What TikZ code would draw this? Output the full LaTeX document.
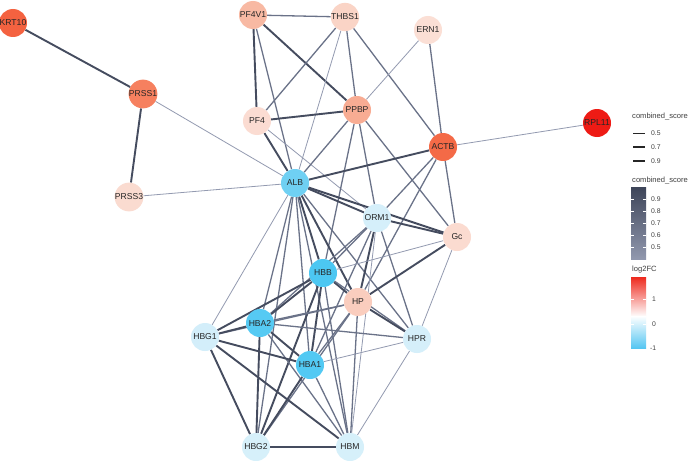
\documentclass[tikz,border=0pt]{standalone}
\usepackage{fontspec}
\setsansfont{Liberation Sans}
\usetikzlibrary{backgrounds}
\definecolor{edgelo}{HTML}{939AB0}
\definecolor{edgemid}{HTML}{6A7288}
\definecolor{edgehi}{HTML}{454C5F}
\definecolor{barhi}{HTML}{3E4559}
\definecolor{barlo}{HTML}{9198AE}
\definecolor{fcred}{HTML}{EE2A1E}
\definecolor{fcblue}{HTML}{55C6F2}
\begin{document}
\begin{tikzpicture}[x=1pt,y=-1pt,
  gene/.style={circle,minimum size=28pt,inner sep=0pt,font=\sffamily\fontsize{8.6}{9}\selectfont,text=black!85},
  lo/.style={draw=edgelo,line width=0.8pt},
  mid/.style={draw=edgemid,line width=1.3pt},
  hi/.style={draw=edgehi,line width=1.9pt},
  leg/.style={anchor=west,inner sep=0pt,font=\sffamily\fontsize{7.6}{8}\selectfont,text=black!75},
  tick/.style={anchor=west,inner sep=0pt,font=\sffamily\fontsize{6.8}{7}\selectfont,text=black!75}]
\useasboundingbox (0,0) rectangle (698,460);

\node[gene,fill={rgb,255:red,244;green,98;blue,64}] (KRT10) at (13,23) {KRT10};
\node[gene,fill={rgb,255:red,246;green,128;blue,95}] (PRSS1) at (143,94) {PRSS1};
\node[gene,fill={rgb,255:red,250;green,219;blue,208}] (PRSS3) at (129,197) {PRSS3};
\node[gene,fill={rgb,255:red,248;green,185;blue,163}] (PF4V1) at (253,15) {PF4V1};
\node[gene,fill={rgb,255:red,250;green,212;blue,198}] (THBS1) at (345,17) {THBS1};
\node[gene,fill={rgb,255:red,251;green,223;blue,213}] (ERN1) at (428,30) {ERN1};
\node[gene,fill={rgb,255:red,251;green,220;blue,210}] (PF4) at (257,121) {PF4};
\node[gene,fill={rgb,255:red,248;green,172;blue,147}] (PPBP) at (357,110) {PPBP};
\node[gene,fill={rgb,255:red,244;green,106;blue,71}] (ACTB) at (443,147) {ACTB};
\node[gene,fill={rgb,255:red,238;green,27;blue,21}] (RPL11) at (597,123) {RPL11};
\node[gene,fill={rgb,255:red,111;green,208;blue,243}] (ALB) at (295,183) {ALB};
\node[gene,fill={rgb,255:red,213;green,239;blue,250}] (ORM1) at (377,218) {ORM1};
\node[gene,fill={rgb,255:red,251;green,219;blue,208}] (Gc) at (457,237) {Gc};
\node[gene,fill={rgb,255:red,76;green,199;blue,242}] (HBB) at (323,273) {HBB};
\node[gene,fill={rgb,255:red,250;green,205;blue,190}] (HP) at (358,302) {HP};
\node[gene,fill={rgb,255:red,86;green,202;blue,243}] (HBA2) at (260,323) {HBA2};
\node[gene,fill={rgb,255:red,211;green,238;blue,250}] (HBG1) at (205,337) {HBG1};
\node[gene,fill={rgb,255:red,213;green,239;blue,250}] (HPR) at (417,339) {HPR};
\node[gene,fill={rgb,255:red,82;green,201;blue,243}] (HBA1) at (310,365) {HBA1};
\node[gene,fill={rgb,255:red,214;green,240;blue,250}] (HBG2) at (256,447) {HBG2};
\node[gene,fill={rgb,255:red,214;green,240;blue,250}] (HBM) at (350,447) {HBM};

\begin{pgfonlayer}{background}
\fill[white] (0,0) rectangle (698,460);
\draw[hi] (KRT10) -- (PRSS1);
\draw[hi] (PRSS1) -- (PRSS3);
\draw[lo] (PRSS1) -- (ALB);
\draw[lo] (PRSS3) -- (ALB);
\draw[mid] (PF4V1) -- (THBS1);
\draw[hi] (PF4V1) -- (PF4);
\draw[hi] (PF4V1) -- (PPBP);
\draw[mid] (PF4V1) -- (ALB);
\draw[mid] (THBS1) -- (PF4);
\draw[lo] (THBS1) -- (ALB);
\draw[mid] (THBS1) -- (PPBP);
\draw[mid] (THBS1) -- (ACTB);
\draw[lo] (ERN1) -- (PPBP);
\draw[mid] (ERN1) -- (ACTB);
\draw[hi] (PF4) -- (PPBP);
\draw[hi] (PF4) -- (ALB);
\draw[lo] (PF4) -- (ORM1);
\draw[mid] (PPBP) -- (ALB);
\draw[mid] (PPBP) -- (ORM1);
\draw[mid] (PPBP) -- (Gc);
\draw[mid] (PPBP) -- (HBB);
\draw[lo] (ACTB) -- (RPL11);
\draw[hi] (ACTB) -- (ALB);
\draw[mid] (ACTB) -- (ORM1);
\draw[mid] (ACTB) -- (Gc);
\draw[mid] (ACTB) -- (HP);
\draw[hi] (ALB) -- (ORM1);
\draw[hi] (ALB) -- (Gc);
\draw[hi] (ALB) -- (HBB);
\draw[hi] (ALB) -- (HP);
\draw[mid] (ALB) -- (HBA2);
\draw[mid] (ALB) -- (HBA1);
\draw[lo] (ALB) -- (HBG1);
\draw[mid] (ALB) -- (HBG2);
\draw[mid] (ALB) -- (HBM);
\draw[mid] (ALB) -- (HPR);
\draw[hi] (ORM1) -- (Gc);
\draw[mid] (ORM1) -- (HBB);
\draw[hi] (ORM1) -- (HP);
\draw[mid] (ORM1) -- (HBA2);
\draw[mid] (ORM1) -- (HBA1);
\draw[mid] (ORM1) -- (HPR);
\draw[lo] (ORM1) -- (HBM);
\draw[lo] (Gc) -- (HBB);
\draw[hi] (Gc) -- (HP);
\draw[lo] (Gc) -- (HPR);
\draw[hi] (HBB) -- (HP);
\draw[hi] (HBB) -- (HBA2);
\draw[hi] (HBB) -- (HBG1);
\draw[hi] (HBB) -- (HBA1);
\draw[hi] (HBB) -- (HBG2);
\draw[mid] (HBB) -- (HBM);
\draw[mid] (HBB) -- (HPR);
\draw[mid] (HP) -- (HBA2);
\draw[hi] (HP) -- (HPR);
\draw[mid] (HP) -- (HBA1);
\draw[mid] (HP) -- (HBG2);
\draw[mid] (HP) -- (HBM);
\draw[mid] (HP) -- (HBG1);
\draw[hi] (HBA2) -- (HBG1);
\draw[mid] (HBA2) -- (HPR);
\draw[hi] (HBA2) -- (HBA1);
\draw[hi] (HBA2) -- (HBG2);
\draw[mid] (HBA2) -- (HBM);
\draw[hi] (HBG1) -- (HBA1);
\draw[hi] (HBG1) -- (HBG2);
\draw[hi] (HBG1) -- (HBM);
\draw[lo] (HBA1) -- (HPR);
\draw[hi] (HBA1) -- (HBG2);
\draw[mid] (HBA1) -- (HBM);
\draw[hi] (HBG2) -- (HBM);
\draw[lo] (HPR) -- (HBM);
\end{pgfonlayer}

\node[leg] (wtitle) at (632,117) {combined\_score};
\draw[black!85,line width=0.8pt] (633,133) -- (645,133);
\draw[black!85,line width=1.4pt] (633,147) -- (645,147);
\draw[black!85,line width=2pt] (633,161) -- (645,161);
\node[tick] (w5) at (651,133) {0.5};
\node[tick] (w7) at (651,147) {0.7};
\node[tick] (w9) at (651,161) {0.9};

\node[leg] (ctitle) at (632,180) {combined\_score};
\shade[top color=barhi,bottom color=barlo] (631,187) rectangle (646,259);
\draw[white,line width=0.5pt] (631,199) -- (634,199) (643,199) -- (646,199);
\draw[white,line width=0.5pt] (631,211) -- (634,211) (643,211) -- (646,211);
\draw[white,line width=0.5pt] (631,223) -- (634,223) (643,223) -- (646,223);
\draw[white,line width=0.5pt] (631,235) -- (634,235) (643,235) -- (646,235);
\draw[white,line width=0.5pt] (631,247) -- (634,247) (643,247) -- (646,247);
\node[tick] (c9) at (651,199) {0.9};
\node[tick] (c8) at (651,211) {0.8};
\node[tick] (c7) at (651,223) {0.7};
\node[tick] (c6) at (651,235) {0.6};
\node[tick] (c5) at (651,247) {0.5};

\node[leg] (ftitle) at (632,270) {log2FC};
\shade[top color=fcred,bottom color=white] (631,277) rectangle (646,316.5);
\shade[top color=white,bottom color=fcblue] (631,316) rectangle (646,348);
\draw[white,line width=0.5pt] (631,299) -- (634,299) (643,299) -- (646,299);
\draw[white,line width=0.5pt] (631,324) -- (634,324) (643,324) -- (646,324);
\node[tick] (f1) at (652,299) {1};
\node[tick] (f0) at (652,324) {0};
\node[tick] (fm) at (650,348) {-1};
\end{tikzpicture}
\end{document}
